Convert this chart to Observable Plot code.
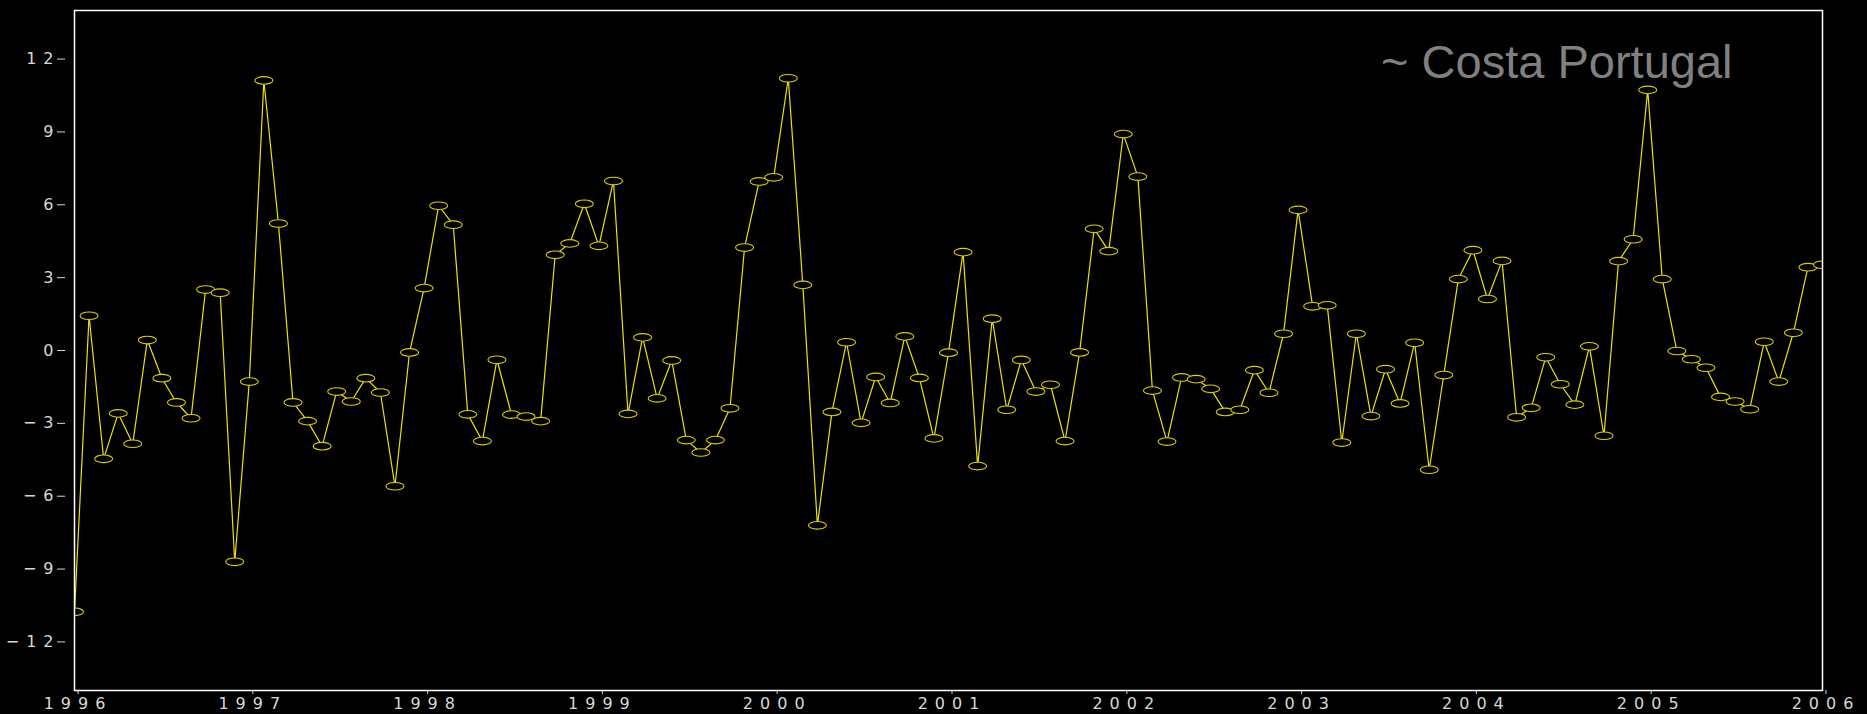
<!DOCTYPE html>
<html>
<head>
<meta charset="utf-8">
<script src="https://cdn.jsdelivr.net/npm/d3@7"></script>
<script src="https://cdn.jsdelivr.net/npm/@observablehq/plot@0.6"></script>
<style>
  html, body { margin: 0; padding: 0; background: #000; }
  #chart svg { display: block; }
</style>
</head>
<body>
<div id="chart"></div>
<script>
// Monthly series, Jan 1996 .. Jan 2006
const startYear = 1996;
const values = [
  -10.76, 1.43, -4.46, -2.59, -3.84, 0.43, -1.14, -2.14, -2.79, 2.51, 2.38, -8.70,
  -1.28, 11.12, 5.23, -2.14, -2.91, -3.94, -1.69, -2.10, -1.14, -1.73, -5.59, -0.08,
  2.57, 5.96, 5.18, -2.63, -3.73, -0.38, -2.64, -2.72, -2.91, 3.94, 4.41, 6.04,
  4.31, 6.98, -2.61, 0.54, -1.97, -0.41, -3.69, -4.20, -3.69, -2.38, 4.24, 6.96,
  7.13, 11.21, 2.70, -7.20, -2.53, 0.34, -2.98, -1.09, -2.16, 0.58, -1.13, -3.62,
  -0.09, 4.05, -4.76, 1.31, -2.44, -0.39, -1.69, -1.41, -3.73, -0.08, 5.01, 4.09,
  8.91, 7.16, -1.65, -3.75, -1.11, -1.18, -1.58, -2.53, -2.44, -0.81, -1.74, 0.69,
  5.79, 1.82, 1.86, -3.79, 0.69, -2.70, -0.77, -2.18, 0.32, -4.91, -1.01, 2.94,
  4.13, 2.12, 3.69, -2.75, -2.36, -0.28, -1.39, -2.23, 0.17, -3.51, 3.68, 4.58,
  10.73, 2.94, -0.02, -0.36, -0.71, -1.91, -2.10, -2.42, 0.36, -1.28, 0.73, 3.43,
  3.53
];
const xTicks = [1996, 1997, 1998, 1999, 2000, 2001, 2002, 2003, 2004, 2005, 2006];
const yTicks = [-12, -9, -6, -3, 0, 3, 6, 9, 12];
const titleText = "~ Costa Portugal";

const data = values.map((v, i) => ({t: startYear + i / 12, v}));

const ellipse = {
  draw(ctx) {
    const rx = 9, ry = 3.8, k = 0.5523;
    ctx.moveTo(rx, 0);
    ctx.bezierCurveTo(rx, ry * k, rx * k, ry, 0, ry);
    ctx.bezierCurveTo(-rx * k, ry, -rx, ry * k, -rx, 0);
    ctx.bezierCurveTo(-rx, -ry * k, -rx * k, -ry, 0, -ry);
    ctx.bezierCurveTo(rx * k, -ry, rx, -ry * k, rx, 0);
    ctx.closePath();
  }
};

const chart = Plot.plot({
  width: 1867,
  height: 714,
  marginLeft: 74,
  marginRight: 45,
  marginTop: 10,
  marginBottom: 24,
  style: {background: "#000", color: "#d8d8d8", fontFamily: "DejaVu Sans", fontSize: "16px", letterSpacing: "7px"},
  x: {domain: [1996, 2006]},
  y: {domain: [-14, 14]},
  marks: [
    Plot.axisX({ticks: xTicks, tickFormat: d => String(d), tickSize: 4, tickPadding: 3, dx: 3.5, label: null, stroke: "#d8d8d8", fill: "#d8d8d8"}),
    Plot.axisY({ticks: yTicks, tickFormat: d => d < 0 ? "\u2212" + Math.abs(d) : String(d), tickSize: 8, tickPadding: -3, dx: -9, label: null, stroke: "#d8d8d8", fill: "#d8d8d8"}),
    Plot.line(data, {x: "t", y: "v", stroke: "#ece400", strokeWidth: 1.2}),
    Plot.dot(data, {x: "t", y: "v", symbol: ellipse, fill: "#000", stroke: "#dccf00", strokeWidth: 1.1, clip: true}),
    Plot.frame({stroke: "#ffffff", strokeWidth: 1.5}),
    Plot.text([titleText], {text: d => d, frameAnchor: "top-right", lineAnchor: "bottom", dx: -90, dy: 67, fill: "#808080", fontSize: 47, fontFamily: "Liberation Sans"})
  ]
});
document.getElementById("chart").appendChild(chart);
// title uses normal letter spacing
chart.querySelectorAll("text").forEach(t => {
  if (t.textContent === titleText) t.setAttribute("letter-spacing", "0");
});
</script>
</body>
</html>
